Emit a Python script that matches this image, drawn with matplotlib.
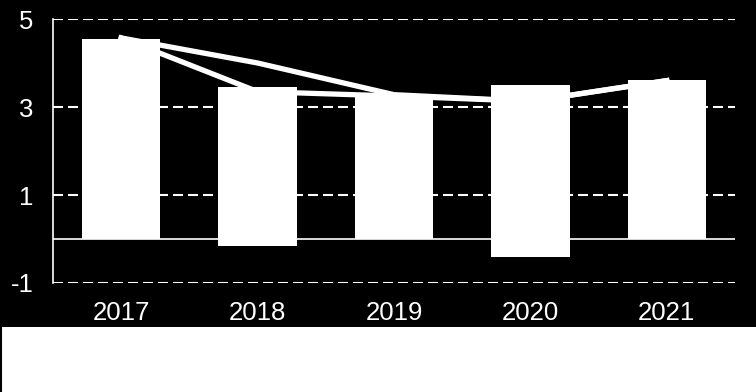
import numpy as np
import matplotlib.pyplot as plt
from matplotlib.patches import Rectangle
from matplotlib.lines import Line2D

plt.rcParams['font.family'] = ['Liberation Sans', 'DejaVu Sans']
plt.rcParams['axes.unicode_minus'] = False

# data
years = ['2017', '2018', '2019', '2020', '2021']
bar_pos = [4.55, 3.45, 3.28, 3.49, 3.62]
bar_neg = [0.0, -0.15, 0.0, -0.40, 0.0]
line_a = [4.57, 4.00, 3.28, 3.13, 3.60]
line_b = [4.57, 3.35, 3.25, 3.13, 3.60]
yticks = [-1, 1, 3, 5]

fig = plt.figure(figsize=(7.56, 3.92), dpi=100, facecolor='white')
# black panel on top, white strip below
bg = Rectangle((0, 1 - 327/392), 1, 327/392, transform=fig.transFigure,
               facecolor='black', edgecolor='none', zorder=-10)
fig.add_artist(bg)
fig.add_artist(Line2D([0.5/756, 0.5/756], [0, 1 - 327/392], transform=fig.transFigure,
                      color='black', lw=1.5, zorder=-10))

ax = fig.add_axes([53/756, 1 - 283/392, (735 - 53)/756, (283 - 19)/392])
ax.set_facecolor('black')

x = np.arange(len(years))
for y in yticks:
    ax.axhline(y, color='white', lw=1.5, ls=(0, (4.8, 2.4)), zorder=1)
ax.axhline(0, color='white', lw=1.2, zorder=1)

ax.bar(x, bar_pos, width=0.575, color='white', zorder=2)
ax.bar(x, bar_neg, width=0.575, color='white', zorder=2)

ax.plot(x, line_a, color='white', lw=3.8, zorder=3, solid_joinstyle='round')
ax.plot(x, line_b, color='white', lw=3.8, zorder=3, solid_joinstyle='round')

ax.set_xlim(-0.5, len(years) - 0.5)
ax.set_ylim(-1, 5)
ax.set_xticks(x)
ax.set_xticklabels(years)
ax.set_yticks(yticks)
ax.tick_params(colors='white', labelsize=18.5, length=0)
ax.tick_params(axis='y', pad=14)
ax.tick_params(axis='x', pad=13)

for s in ['top', 'right', 'bottom']:
    ax.spines[s].set_visible(False)
ax.spines['left'].set_color('white')
ax.spines['left'].set_linewidth(1.2)

fig.savefig('out.png', dpi=100, facecolor=fig.get_facecolor())
